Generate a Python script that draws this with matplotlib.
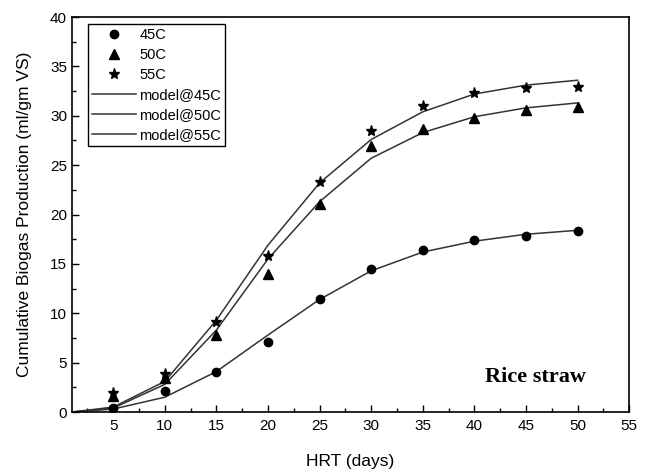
import matplotlib
matplotlib.use("Agg")
import matplotlib.pyplot as plt
from matplotlib.ticker import MultipleLocator

plt.rcParams['font.family'] = ['Liberation Sans', 'DejaVu Sans']

hrt = [5, 10, 15, 20, 25, 30, 35, 40, 45, 50]
exp_45 = [0.4, 2.1, 4.1, 7.1, 11.4, 14.5, 16.4, 17.4, 17.8, 18.3]
exp_50 = [1.6, 3.4, 7.8, 14.0, 21.1, 26.9, 28.7, 29.8, 30.6, 30.9]
exp_55 = [1.9, 3.9, 9.1, 15.8, 23.3, 28.5, 31.0, 32.3, 32.8, 32.9]

model_hrt = [1, 5, 10, 15, 20, 25, 30, 35, 40, 45, 50]
model_45 = [0.0, 0.3, 1.5, 4.1, 7.8, 11.4, 14.3, 16.2, 17.3, 18.0, 18.4]
model_50 = [0.0, 0.4, 2.8, 8.3, 15.5, 21.3, 25.7, 28.3, 29.9, 30.8, 31.3]
model_55 = [0.0, 0.5, 3.1, 9.3, 16.9, 23.2, 27.6, 30.4, 32.2, 33.1, 33.6]

fig = plt.figure(figsize=(6.48, 4.75), dpi=100)
ax = fig.add_axes([0.111, 0.1326, 0.860, 0.8316])

ax.plot(hrt, exp_45, 'o', color='black', markersize=6, label='45C', zorder=3)
ax.plot(hrt, exp_50, '^', color='black', markersize=6.5, label='50C', zorder=3)
ax.plot(hrt, exp_55, '*', color='black', markersize=8, label='55C', zorder=3)
ax.plot(model_hrt, model_45, '-', color='#333333', lw=1.1, label='model@45C')
ax.plot(model_hrt, model_50, '-', color='#333333', lw=1.1, label='model@50C')
ax.plot(model_hrt, model_55, '-', color='#333333', lw=1.1, label='model@55C')

ax.set_xlim(1, 55)
ax.set_ylim(0, 40)
ax.xaxis.set_minor_locator(MultipleLocator(2.5))
ax.yaxis.set_major_locator(MultipleLocator(5))
ax.yaxis.set_minor_locator(MultipleLocator(2.5))
ax.set_xticks([5, 10, 15, 20, 25, 30, 35, 40, 45, 50, 55])
ax.tick_params(which='both', direction='in', top=False, right=False, labelsize=11)
ax.tick_params(axis='x', which='major', pad=5)
ax.tick_params(which='major', length=5, width=1)
ax.tick_params(which='minor', length=3, width=1)
for s in ax.spines.values():
    s.set_linewidth(1.2)

ax.set_xlabel('HRT (days)', fontsize=12.5, labelpad=15)
ax.set_ylabel('Cumulative Biogas Production (ml/gm VS)', fontsize=12.5, labelpad=13)

leg = ax.legend(loc='upper left', bbox_to_anchor=(0.029, 0.982), fontsize=10.5,
                frameon=True, fancybox=False, edgecolor='black', framealpha=1,
                borderpad=0.3, labelspacing=0.4, handlelength=3.0, handletextpad=0.2,
                borderaxespad=0)
leg.get_frame().set_linewidth(1.0)

ax.text(45.9, 3.5, 'Rice straw', fontsize=16, fontweight='bold',
        family='Liberation Serif', ha='center', va='center')

fig.savefig('out.png', dpi=100)
